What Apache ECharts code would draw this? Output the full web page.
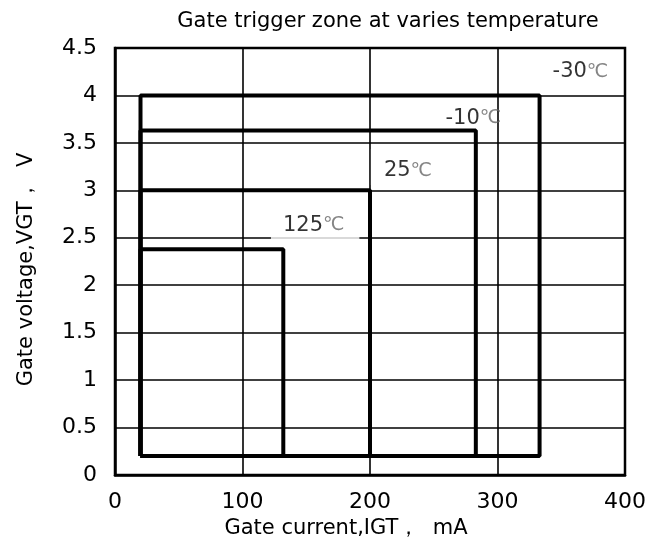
<!DOCTYPE html>
<html>
<head>
<meta charset="utf-8">
<script src="https://cdn.jsdelivr.net/npm/echarts@6/dist/echarts.min.js"></script>
<style>html,body{margin:0;padding:0;background:#fff}#c{width:657px;height:546px}</style>
</head>
<body>
<div id="c"></div>
<script>
// Data
const temps = ['-30', '-10', '25', '125'];
const igtMin = [20, 20, 20, 20];        // mA, left edge
const igtMax = [333, 283, 200, 132];    // mA, right edge
const vgtMin = [0.2, 0.2, 0.2, 0.2];    // V, bottom edge
const vgtMax = [4.0, 3.63, 3.0, 2.38];  // V, top edge
const labelX = [365, 281, 227, 157];
const labelY = [4.25, 3.76, 3.245, 2.62];
const xTicks = [0, 100, 200, 300, 400];
const yTicks = [0, 0.5, 1, 1.5, 2, 2.5, 3, 3.5, 4, 4.5];

const font = 'DejaVu Sans, sans-serif';
const chart = echarts.init(document.getElementById('c'));

const series = temps.map((t, i) => ({
  type: 'line',
  data: [[igtMin[i], vgtMin[i]], [igtMin[i], vgtMax[i]], [igtMax[i], vgtMax[i]], [igtMax[i], vgtMin[i]], [igtMin[i], vgtMin[i]]],
  showSymbol: false,
  symbol: 'none',
  lineStyle: { color: '#000', width: 4 },
  silent: true,
  z: 3
}));

const labelBg = [null, null, '#fff', '#fff'];
const labelPad = [0, 0, [11, 6, 4, 13], [2, 15, 4, 12]];
series.push({
  type: 'scatter',
  symbolSize: 0,
  z: 4,
  data: temps.map((t, i) => ({
    value: [labelX[i], labelY[i]],
    label: {
      show: true,
      position: 'inside',
      formatter: '{a|' + t + '}{b|℃}',
      backgroundColor: labelBg[i] || 'transparent',
      padding: labelPad[i],
      rich: {
        a: { fontFamily: font, fontSize: 21, color: '#000' },
        b: { fontFamily: 'DejaVu Sans', fontSize: 19, color: '#666' }
      }
    }
  }))
});

chart.setOption({
  animation: false,
  backgroundColor: '#fff',
  title: {
    text: 'Gate trigger zone at varies temperature',
    left: 383, top: 6, textAlign: 'center',
    textStyle: { fontFamily: font, fontSize: 21, fontWeight: 'normal', color: '#000' }
  },
  grid: { left: 115, right: 32, top: 48, bottom: 71, show: true, borderColor: '#000', borderWidth: 2.5, containLabel: false },
  xAxis: {
    type: 'value', min: xTicks[0], max: xTicks[xTicks.length - 1], interval: 100,
    name: 'Gate current,IGT，  mA', nameLocation: 'middle', nameGap: 42,
    nameTextStyle: { fontFamily: font, fontSize: 21, color: '#000', padding: [0, 48, 0, 0] },
    axisLine: { show: true, lineStyle: { color: '#000', width: 2.5 } },
    axisTick: { show: false },
    axisLabel: { fontFamily: font, fontSize: 22, color: '#000', margin: 16 },
    splitLine: { show: true, lineStyle: { color: '#000', width: 1.6 } }
  },
  yAxis: {
    type: 'value', min: yTicks[0], max: yTicks[yTicks.length - 1], interval: 0.5,
    name: 'Gate voltage,VGT，  V', nameLocation: 'middle', nameGap: 78,
    nameTextStyle: { fontFamily: font, fontSize: 21, color: '#000', padding: [0, 16, 0, 0] },
    axisLine: { show: true, lineStyle: { color: '#000', width: 2.5 } },
    axisTick: { show: false },
    axisLabel: { fontFamily: font, fontSize: 22, color: '#000', margin: 18 },
    splitLine: { show: true, lineStyle: { color: '#000', width: 1.6 } }
  },
  series: series
});
</script>
</body>
</html>
